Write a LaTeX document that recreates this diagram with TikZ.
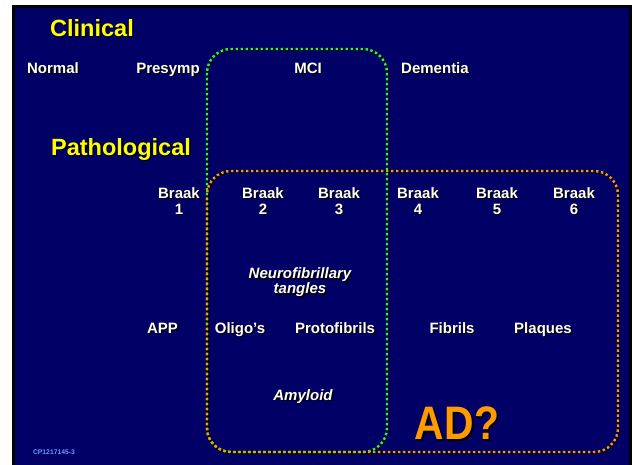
\documentclass[tikz,border=0pt]{standalone}
\usepackage{fontspec}
\setmainfont{Liberation Sans}
\definecolor{navy}{HTML}{000066}
\definecolor{ygold}{HTML}{FFFF00}
\definecolor{dgreen}{HTML}{22FF22}
\definecolor{dorange}{HTML}{FF9A00}
\definecolor{tagblue}{HTML}{6A98FF}
% text with a small black drop shadow: name, style, position, text
\newcommand\shlabel[4]{%
  \node[#2,text=black,xshift=1.4pt,yshift=-1.4pt] at (#3) {#4};
  \node[#2] (#1) at (#3) {#4};}
\begin{document}
\begin{tikzpicture}[x=1pt,y=-1pt,
  every node/.style={inner sep=0pt,align=center},
  title/.style={text=ygold,font=\bfseries\fontsize{23.5}{26}\selectfont,text height=16.8pt,text depth=0pt},
  lbl/.style={text=white,font=\bfseries\fontsize{15}{16}\selectfont,text height=10.7pt,text depth=0pt},
  ilbl/.style={text=white,font=\bfseries\itshape\fontsize{15}{15}\selectfont,text height=10.7pt,text depth=0pt},
  dotline/.style={line width=2.4pt,dash pattern=on 2.4pt off 2.6pt},
  dotshadow/.style={dotline,draw=black,shift={(0.9,0.9)}}]
\useasboundingbox (0,0) rectangle (632,465);
% frame and background
\fill[white] (0,0) rectangle (632,465);
\fill[black] (12,5) rectangle (632,466);
\fill[navy] (15,8) rectangle (629,466);

% headings
\shlabel{clin}{title}{92,28}{Clinical}
\shlabel{path}{title}{121,147}{Pathological}

% clinical stages
\shlabel{normal}{lbl}{53,68}{Normal}
\shlabel{presymp}{lbl}{168,68}{Presymp}
\shlabel{mci}{lbl}{308,68}{MCI}
\shlabel{dementia}{lbl}{435,68}{Dementia}

% Braak stages
\shlabel{b1}{lbl}{179,209}{Braak\\1}
\shlabel{b2}{lbl}{263,209}{Braak\\2}
\shlabel{b3}{lbl}{339,209}{Braak\\3}
\shlabel{b4}{lbl}{418,209}{Braak\\4}
\shlabel{b5}{lbl}{497,209}{Braak\\5}
\shlabel{b6}{lbl}{574,209}{Braak\\6}

\shlabel{nft}{ilbl}{300,288.5}{Neurofibrillary\\tangles}

% amyloid cascade
\shlabel{app}{lbl}{162.5,328}{APP}
\shlabel{oligo}{lbl}{240,328}{Oligo’s}
\shlabel{proto}{lbl}{335,328}{Protofibrils}
\shlabel{fib}{lbl}{452,328}{Fibrils}
\shlabel{plaq}{lbl}{543,328}{Plaques}

\shlabel{amy}{ilbl}{303,395}{Amyloid}

% AD?
\node[text=black,font=\bfseries\fontsize{47}{47}\selectfont,xscale=0.87,xshift=1.8pt,yshift=-1.8pt] at (457,423) {AD?};
\node[text=dorange,font=\bfseries\fontsize{47}{47}\selectfont,xscale=0.87] (ad) at (457,423) {AD?};

% dotted regions: MCI window and AD pathology window
\draw[dotshadow,rounded corners=24] (207,49) rectangle (387,452);
\draw[dotshadow,rounded corners=24] (207,171) rectangle (618,452);
\draw[dotline,draw=dgreen,rounded corners=24] (207,49) rectangle (387,452);
\draw[dotline,draw=dorange,dash phase=2.5pt,rounded corners=24] (207,171) rectangle (618,452);

% slide tag
\node[text=tagblue,font=\bfseries\fontsize{6.8}{7}\selectfont] (tag) at (54,452) {CP1217145-3};
\end{tikzpicture}
\end{document}
